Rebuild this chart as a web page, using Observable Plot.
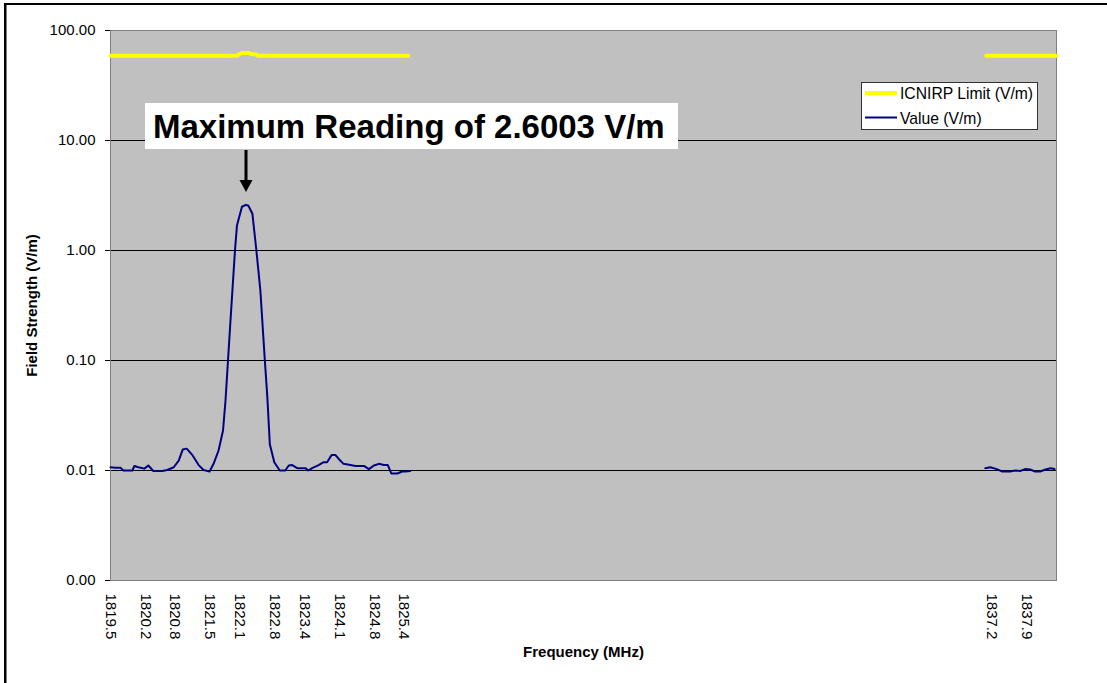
<!DOCTYPE html>
<html>
<head>
<meta charset="utf-8">
<script src="https://cdn.jsdelivr.net/npm/d3@7"></script>
<script src="https://cdn.jsdelivr.net/npm/@observablehq/plot@0.6"></script>
<style>
  body { margin: 0; background: #fff; }
  #wrap { position: relative; width: 1107px; height: 683px; overflow: hidden; font-family: "Liberation Sans", Arial, sans-serif; }
  #wrap svg.plot { position: absolute; left: 0; top: 0; }
  #overlay { position: absolute; left: 0; top: 0; pointer-events: none; }
</style>
</head>
<body>
<div id="wrap"></div>
<script>
// ---- Data ----
// Measured field strength, first sweep segment (MHz, V/m)
const valueFreqA = [1819.50, 1819.60, 1819.70, 1819.76, 1819.94, 1819.98, 1820.06, 1820.18, 1820.26, 1820.36,
  1820.54, 1820.64, 1820.77, 1820.87, 1820.95, 1821.03, 1821.15, 1821.27, 1821.37, 1821.49,
  1821.57, 1821.67, 1821.76, 1821.81, 1821.86, 1821.91, 1822.00, 1822.04, 1822.14, 1822.22,
  1822.27, 1822.35, 1822.43, 1822.51, 1822.60, 1822.65, 1822.68, 1822.70, 1822.79, 1822.90,
  1823.01, 1823.08, 1823.15, 1823.25, 1823.42, 1823.47, 1823.55, 1823.68, 1823.78, 1823.85,
  1823.94, 1824.02, 1824.08, 1824.18, 1824.32, 1824.42, 1824.59, 1824.69, 1824.79, 1824.89,
  1824.99, 1825.07, 1825.14, 1825.26, 1825.36, 1825.42, 1825.52];
const valueA = [0.0107, 0.0106, 0.0106, 0.0100, 0.0100, 0.0110, 0.0107, 0.0104, 0.0111, 0.0099,
  0.0099, 0.0101, 0.0107, 0.0123, 0.0155, 0.0158, 0.0137, 0.0112, 0.0101, 0.0098,
  0.0115, 0.0152, 0.0231, 0.0433, 0.100, 0.231, 1.00, 1.69, 2.50, 2.6003,
  2.55, 2.16, 1.00, 0.433, 0.100, 0.0464, 0.0258, 0.0173, 0.0119, 0.0100,
  0.0100, 0.0111, 0.0112, 0.0105, 0.0105, 0.0100, 0.0105, 0.0112, 0.0119, 0.0119,
  0.0138, 0.0138, 0.0128, 0.0115, 0.0112, 0.0110, 0.0110, 0.0103, 0.0111, 0.0115,
  0.0112, 0.0112, 0.0094, 0.0094, 0.0098, 0.0098, 0.0099];
// Measured field strength, second sweep segment
const valueFreqB = [1837.07, 1837.17, 1837.30, 1837.41, 1837.57, 1837.67, 1837.77, 1837.87, 1837.97, 1838.07, 1838.17, 1838.28, 1838.38, 1838.46];
const valueB = [0.0105, 0.0107, 0.0103, 0.0098, 0.0098, 0.0100, 0.0099, 0.0103, 0.0102, 0.0098, 0.0098, 0.0102, 0.0105, 0.0103];
// ICNIRP limit
const limitFreqA = [1819.50, 1822.04, 1822.09, 1822.14, 1822.28, 1822.33, 1822.43, 1822.45, 1825.48];
const limitA = [59, 59, 61, 62.5, 62.5, 61, 60.5, 59, 59];
const limitFreqB = [1837.09, 1838.50];
const limitB = [59, 59];
// Axes
const xTicks = [1819.5, 1820.2, 1820.8, 1821.5, 1822.1, 1822.8, 1823.4, 1824.1, 1824.8, 1825.4, 1837.2, 1837.9];
const yTicks = [0.001, 0.01, 0.1, 1, 10, 100];
const yGrid = [0.01, 0.1, 1, 10];
const seriesNames = ["ICNIRP Limit (V/m)", "Value (V/m)"];
const annotationText = "Maximum Reading of 2.6003 V/m";

// ---- Build tables ----
const valueRows = [
  ...valueFreqA.map((f, i) => ({freq: f, v: valueA[i], seg: "A"})),
  ...valueFreqB.map((f, i) => ({freq: f, v: valueB[i], seg: "B"}))
];
const limitRows = [
  ...limitFreqA.map((f, i) => ({freq: f, v: limitA[i], seg: "A"})),
  ...limitFreqB.map((f, i) => ({freq: f, v: limitB[i], seg: "B"}))
];

const font = '"Liberation Sans", Arial, sans-serif';
const chart = Plot.plot({
  width: 1107,
  height: 683,
  marginLeft: 110,
  marginRight: 51,
  marginTop: 30,
  marginBottom: 103,
  style: {fontFamily: font, fontSize: "15px", color: "#000", background: "transparent", overflow: "visible"},
  x: {domain: [1819.5, 1838.5]},
  y: {type: "log", domain: [0.001, 100]},
  marks: [
    Plot.frame({fill: "#c0c0c0", stroke: null}),
    Plot.ruleY(yGrid, {stroke: "#000", strokeWidth: 1}),
    Plot.frame({stroke: "#808080"}),
    Plot.line(limitRows, {x: "freq", y: "v", z: "seg", stroke: "#ffff00", strokeWidth: 4, strokeLinejoin: "miter"}),
    Plot.line(valueRows, {x: "freq", y: "v", z: "seg", stroke: "#000080", strokeWidth: 2}),
    Plot.axisY({ticks: yTicks, tickFormat: d3.format(".2f"), tickSize: 5, tickPadding: 10, label: null, fontSize: 15}),
    Plot.axisX({ticks: xTicks, tickFormat: d => d.toFixed(1), tickSize: 0, tickRotate: 90, tickPadding: 13, label: null, fontSize: 15}),
    Plot.text(["Field Strength (V/m)"], {frameAnchor: "left", textAnchor: "middle", dx: -78, rotate: -90, fontWeight: "bold", fontSize: 15}),
    Plot.text(["Frequency (MHz)"], {frameAnchor: "bottom", dy: 76, fontWeight: "bold", fontSize: 15})
  ]
});
chart.classList.add("plot");
const wrap = document.getElementById("wrap");
wrap.appendChild(chart);

// ---- Overlay: outer frame, annotation, legend ----
const ov = d3.select(wrap).append("svg").attr("id", "overlay").attr("width", 1107).attr("height", 683)
  .style("font-family", font);
ov.append("rect").attr("x", 4).attr("y", 3).attr("width", 1103).attr("height", 2).attr("fill", "#000");
ov.append("rect").attr("x", 4).attr("y", 3).attr("width", 2.5).attr("height", 680).attr("fill", "#000");

ov.append("rect").attr("x", 145).attr("y", 103).attr("width", 533).attr("height", 46).attr("fill", "#fff");
ov.append("text").attr("x", 153).attr("y", 138).attr("font-size", 33).attr("font-weight", "bold").attr("fill", "#000").text(annotationText);
ov.append("line").attr("x1", 246).attr("x2", 246).attr("y1", 150).attr("y2", 182).attr("stroke", "#000").attr("stroke-width", 3);
ov.append("polygon").attr("points", "239.5,180 252.5,180 246,192").attr("fill", "#000");

ov.append("rect").attr("x", 861.5).attr("y", 82.5).attr("width", 176).attr("height", 47).attr("fill", "#fff").attr("stroke", "#333");
ov.append("line").attr("x1", 865).attr("x2", 897).attr("y1", 93).attr("y2", 93).attr("stroke", "#ffff00").attr("stroke-width", 4);
ov.append("text").attr("x", 900).attr("y", 99).attr("font-size", 15.7).text(seriesNames[0]);
ov.append("line").attr("x1", 865).attr("x2", 897).attr("y1", 117.5).attr("y2", 117.5).attr("stroke", "#000080").attr("stroke-width", 2);
ov.append("text").attr("x", 900).attr("y", 123.5).attr("font-size", 15.7).text(seriesNames[1]);
</script>
</body>
</html>
